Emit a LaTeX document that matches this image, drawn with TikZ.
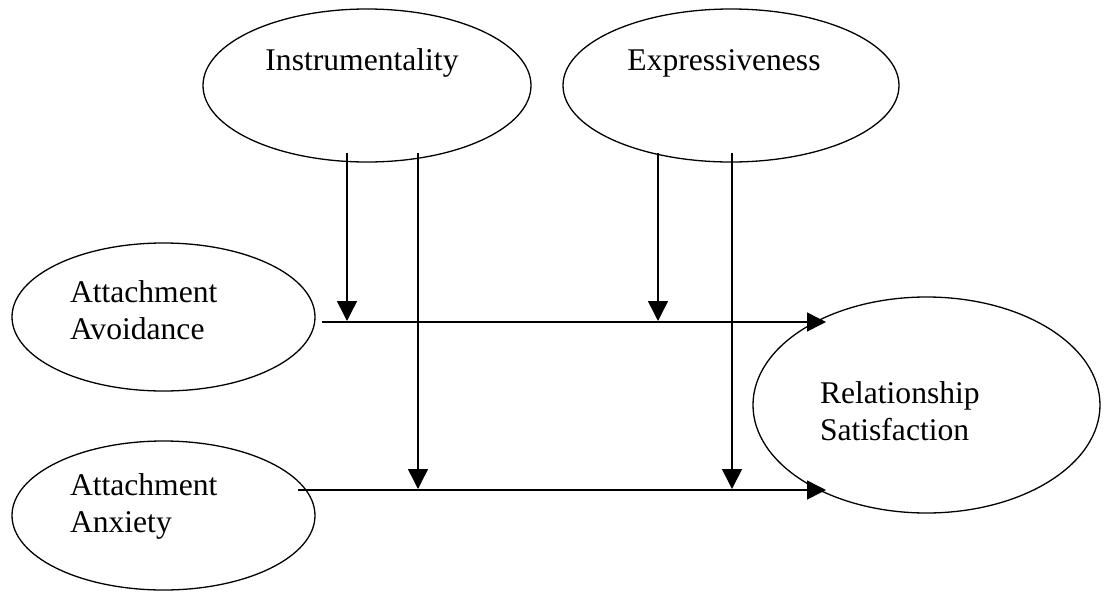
\documentclass[tikz,border=0pt]{standalone}
\usepackage{fontspec}
\setmainfont{Liberation Serif}
\usetikzlibrary{shapes.geometric,arrows.meta}

\tikzset{
  construct/.style={ellipse, draw=black, line width=1.3pt, inner sep=0pt, outer sep=0pt},
  caption/.style={inner sep=0pt, outer sep=0pt, font=\fontsize{31.6}{37}\selectfont},
  path/.style={draw=black, line width=1.5pt, -{Triangle[length=19pt,width=19pt]}},
  moderator/.style={draw=black, line width=1.5pt, -{Triangle[length=20pt,width=20pt]}}
}

\begin{document}
\begin{tikzpicture}[x=1pt,y=-1pt]
  \useasboundingbox (0,0) rectangle (1104,592);

  % constructs
  \node[construct, minimum width=328pt, minimum height=153pt] (instr) at (367,85.5) {};
  \node[construct, minimum width=336pt, minimum height=153pt] (expr)  at (731,85.5) {};
  \node[construct, minimum width=303pt, minimum height=148pt] (avoid) at (163.5,317) {};
  \node[construct, minimum width=303pt, minimum height=149pt] (anx)   at (163.5,515.5) {};
  \node[construct, minimum width=347pt, minimum height=216pt] (sat)   at (926.5,405) {};

  % labels
  \node[caption, anchor=base] (instrT) at (362,70) {Instrumentality};
  \node[caption, anchor=base] (exprT)  at (724,70) {Expressiveness};
  \node[caption, anchor=base west] (avoidT1) at (70,302) {Attachment};
  \node[caption, anchor=base west] (avoidT2) at (70,339) {Avoidance};
  \node[caption, anchor=base west] (anxT1)   at (70,495) {Attachment};
  \node[caption, anchor=base west] (anxT2)   at (70,532) {Anxiety};
  \node[caption, anchor=base west] (satT1)   at (820,403) {Relationship};
  \node[caption, anchor=base west] (satT2)   at (820,440) {Satisfaction};

  % connector end points
  \coordinate (avoidOut) at (322,322);
  \coordinate (anxOut)   at (298,490);
  \coordinate (satInA)   at (826,322);
  \coordinate (satInB)   at (826,490);

  \coordinate (instrA) at (347,153);
  \coordinate (instrB) at (418,153);
  \coordinate (exprA)  at (658,153);
  \coordinate (exprB)  at (732,153);

  \coordinate (modIA) at (347,321);
  \coordinate (modIB) at (418,489);
  \coordinate (modEA) at (658,321);
  \coordinate (modEB) at (732,489);

  % main effects
  \draw[path] (avoidOut) -- (satInA);
  \draw[path] (anxOut) -- (satInB);

  % moderation
  \draw[moderator] (instrA) -- (modIA);
  \draw[moderator] (instrB) -- (modIB);
  \draw[moderator] (exprA) -- (modEA);
  \draw[moderator] (exprB) -- (modEB);
\end{tikzpicture}
\end{document}
